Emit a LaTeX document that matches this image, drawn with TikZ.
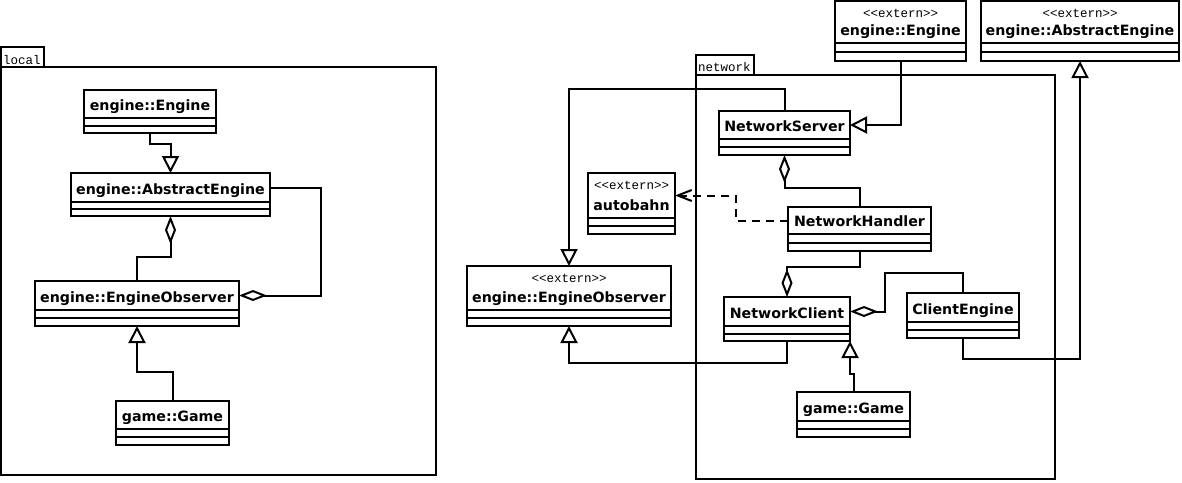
\documentclass[tikz,border=0pt]{standalone}
\usepackage{fontspec}
\setmainfont{DejaVu Sans}
\newfontfamily\monofont{Liberation Mono}
\usetikzlibrary{arrows.meta}

\tikzset{
  wire/.style={line width=2pt},
  pkgframe/.style={draw, line width=2pt},
  classbox/.style={draw, line width=2pt, fill=white, inner sep=0pt, outer sep=0pt},
  classname/.style={font=\fontsize{14.2}{16}\selectfont\bfseries, anchor=base, inner sep=0pt},
  stereo/.style={font=\monofont\fontsize{12.5}{14}\selectfont, anchor=base, inner sep=0pt},
  pkgname/.style={font=\monofont\fontsize{12.5}{14}\selectfont, anchor=base west, inner sep=0pt},
  inherits/.style={wire, -{Triangle[open, length=17pt, width=17pt]}},
  aggregates/.style={wire, -{Diamond[open, length=28pt, width=11pt]}},
  usesdep/.style={wire, dash pattern=on 8pt off 6pt, -{Straight Barb[length=14pt, width=11pt]}},
}

% \umlclass[stereotype]{name}{x1}{y1}{x2}{y2}{header bottom}{class name}
\newcommand\umlclass[8][]{%
  \node[classbox, minimum width={(#5-#3)*1pt}, minimum height={(#6-#4)*1pt}]
    (#2) at ({(#3+#5)/2},{(#4+#6)/2}) {};
  \coordinate (#2-h) at ({(#3+#5)/2},{(#4+#7)/2});
  \draw[wire] (#3,#7) -- (#5,#7);
  \draw[wire] (#3,{(#7+#6)/2}) -- (#5,{(#7+#6)/2});
  \node[classname] (#2-name) at ({(#3+#5)/2},{#7-7.5}) {#8};
  \if\relax\detokenize{#1}\relax\else
    \node[stereo] (#2-st) at ({(#3+#5)/2},{#4+16.5}) {#1};
  \fi
}
\newcommand\ext{<\kern0pt<extern>\kern0pt>}

\begin{document}
\begin{tikzpicture}[x=1pt, y=-1pt]
\useasboundingbox (0,0) rectangle (1182,482);

% package: local
\draw[pkgframe] (1,47) rectangle (44,67);
\draw[pkgframe] (1,67) rectangle (436,475);
\node[pkgname] (localname) at (3,64) {local};

% package: network
\draw[pkgframe] (696,55) rectangle (754,75);
\draw[pkgframe] (696,75) rectangle (1055,479);
\node[pkgname] (netname) at (698,71) {network};

% classes inside local
\umlclass{lEng}{84}{90}{216}{133}{118}{engine::Engine}
\umlclass{lAbs}{71}{173}{270}{216}{202}{engine::AbstractEngine}
\umlclass{lObs}{35}{281}{239}{326}{310}{engine::EngineObserver}
\umlclass{lGame}{116}{401}{229}{445}{429}{game::Game}

% external classes
\umlclass[\ext]{xEng}{835}{1}{966}{61}{43}{engine::Engine}
\umlclass[\ext]{xAbs}{981}{1}{1179}{61}{43}{engine::AbstractEngine}
\umlclass[\ext]{auto}{588}{173}{675}{234}{218}{autobahn}
\umlclass[\ext]{xObs}{467}{266}{671}{326}{310}{engine::EngineObserver}

% classes inside network
\umlclass{nServer}{719}{111}{850}{155}{139}{NetworkServer}
\umlclass{nHandler}{788}{207}{931}{251}{234}{NetworkHandler}
\umlclass{nClient}{724}{297}{850}{341}{326}{NetworkClient}
\umlclass{cEng}{907}{293}{1019}{338}{322}{ClientEngine}
\umlclass{nGame}{797}{392}{910}{437}{421}{game::Game}

% relations in local
\draw[inherits] (lEng.south) -- ++(0,11) -| (lAbs.north);
\draw[aggregates] (lObs.north) -- ++(0,-24) -| (lAbs.south);
\draw[aggregates] (lAbs-h -| lAbs.east) -- ++(51,0) |- (lObs-h -| lObs.east);
\draw[inherits] (lGame.north) -- ++(0,-29) -| (lObs.south);

% relations in network
\draw[inherits] (xEng.south) |- (nServer-h -| nServer.east);
\draw[inherits] (nServer.north) -- ++(0,-22) -| (xObs.north);
\draw[aggregates] (nHandler.north) -- ++(0,-19) -| (nServer.south);
\draw[usesdep] (nHandler-h -| nHandler.west) -- ++(-52,0) |- (auto-h -| auto.east);
\draw[aggregates] (nHandler.south) -- ++(0,16) -| (nClient.north);
\draw[aggregates] (cEng.north) -- ++(0,-20) -- ++(-78,0) |- (nClient-h -| nClient.east);
\draw[inherits] (nClient.south) -- ++(0,22) -| (xObs.south);
\draw[inherits] (cEng.south) -- ++(0,21) -| (xAbs.south);
\draw[inherits] (nGame.north) -- ++(0,-18) -| (nClient.south east);
\end{tikzpicture}
\end{document}
